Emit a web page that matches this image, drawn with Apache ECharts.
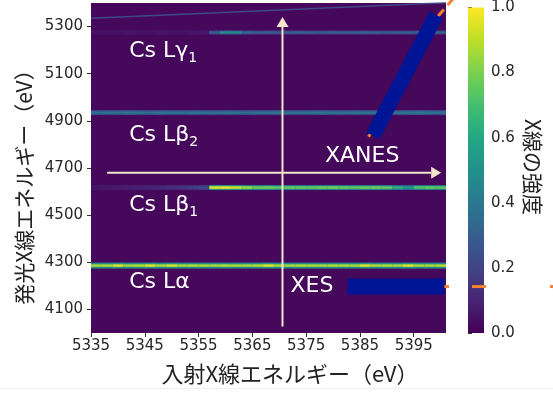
<!DOCTYPE html>
<html><head><meta charset="utf-8">
<script src="https://cdn.jsdelivr.net/npm/echarts@6/dist/echarts.min.js"></script>
<style>html,body{margin:0;padding:0;background:#fff}#c{width:553px;height:405px}</style>
</head><body><div id="c"></div>
<script>
// ---------- data ----------
const incidentBins = [5335,5337,5339,5341,5343,5345,5347,5349,5351,5353,5355,5357,5359,5361,5363,5365,5367,5369,5371,5373,5375,5377,5379,5381,5383,5385,5387,5389,5391,5393,5395,5397,5399];
const binWidth = 2;
const emissionLines = [5275, 4935, 4617, 4286];
const intensityLgamma1 = [0.04,0.04,0.04,0.05,0.04,0.04,0.05,0.04,0.04,0.05,0.06,0.3,0.5,0.48,0.34,0.3,0.31,0.29,0.3,0.32,0.3,0.29,0.31,0.3,0.3,0.32,0.3,0.29,0.3,0.31,0.3,0.33,0.3];
const intensityLbeta2 = [0.36,0.38,0.37,0.4,0.38,0.36,0.39,0.38,0.37,0.39,0.38,0.37,0.39,0.38,0.36,0.38,0.37,0.39,0.38,0.37,0.38,0.4,0.38,0.37,0.39,0.38,0.37,0.36,0.38,0.39,0.41,0.39,0.38];
const intensityLbeta1 = [0.05,0.06,0.07,0.08,0.09,0.1,0.11,0.13,0.15,0.18,0.22,0.95,0.97,0.93,0.86,0.77,0.78,0.75,0.77,0.76,0.75,0.78,0.79,0.76,0.75,0.77,0.78,0.75,0.63,0.53,0.72,0.76,0.74];
const intensityLalpha = [0.86,0.87,0.95,0.86,0.88,0.95,0.87,0.94,0.86,0.88,0.87,0.86,0.88,0.87,0.86,0.88,0.95,0.87,0.86,0.88,0.87,0.86,0.88,0.87,0.86,0.95,0.87,0.88,0.86,0.95,0.87,0.86,0.88];
const elasticLine = [[5335,5335],[5401,5401]];
const elasticIntensity = 0.22;
const xTicks = [5335,5345,5355,5365,5375,5385,5395];
const yTicks = [4100,4300,4500,4700,4900,5100,5300];
const cbTicks = [0,0.2,0.4,0.6,0.8,1.0];
const labelTexts = ['Cs L\u03b3{s|1}','Cs L\u03b2{s|2}','Cs L\u03b2{s|1}','Cs L\u03b1','XANES','XES'];
const labelX = [5342.1,5342.1,5342.1,5342.1,5378.5,5372.1];
const labelY = [5194,4838,4542,4214,4751,4197];
const arrowStart = [[5370.6,4028],[5338,4680]];
const arrowEnd = [[5370.6,5341],[5400.1,4680]];
const markBarStart = [[5387.4,4837],[5382.7,4197]];
const markBarEnd = [[5399.2,5349.6],[5400.7,4197]];
// orange dash pieces: [x0, y0, x1, y1]
const orangeDashes = [
  [5386.6,4832.6,5388.3,4893],
  [5399.0,5330,5400.6,5372],
  [5401.3,5392,5403.2,5440],
  [5399.7,4197,5401.55,4197],
  [5405.83,4197,5408.43,4197],
  [5420.33,4197,5422.19,4197]
];
const xTitle = '入射X線エネルギー（eV）';
const yTitle = '発光X線エネルギー（eV）';
const cbTitle = 'X線の強度';

// ---------- helpers ----------
const VIR = ['#440154','#482475','#414487','#355f8d','#2a788e','#21918c','#22a884','#44bf70','#7ad151','#bddf26','#fde725'];
function hx(c){return [parseInt(c.slice(1,3),16),parseInt(c.slice(3,5),16),parseInt(c.slice(5,7),16)];}
function viridis(t){
  t=Math.max(0,Math.min(1,t)); const f=t*10; const i=Math.min(9,Math.floor(f)); const r=f-i;
  const a=hx(VIR[i]), b=hx(VIR[i+1]);
  return 'rgb('+a.map((v,k)=>Math.round(v+(b[k]-v)*r)).join(',')+')';
}
const coreH=[2,2.5,2.5,2.5], haloH=[4,5,5,6];
const lineIntensities=[intensityLgamma1,intensityLbeta2,intensityLbeta1,intensityLalpha];
const heatData=[];
lineIntensities.forEach((arr,li)=>arr.forEach((v,j)=>heatData.push([incidentBins[j],incidentBins[j]+binWidth,emissionLines[li],v,li])));
const arrowData=arrowStart.map((s,i)=>[s[0],s[1],arrowEnd[i][0],arrowEnd[i][1]]);
const barData=markBarStart.map((s,i)=>[s[0],s[1],markBarEnd[i][0],markBarEnd[i][1]]);
const labelData=labelX.map((x,i)=>[x,labelY[i],i]);
const ARROW='#f3e3cc';
const barW=[15,16];
const tickFont={fontFamily:'DejaVu Sans',fontSize:15,color:'#262626'};
const cjk='"Noto Sans CJK JP"';

const chart=echarts.init(document.getElementById('c'),null,{renderer:'canvas'});
chart.setOption({
  animation:false,
  backgroundColor:'#fff',
  grid:[
    {left:91,top:3,width:355,height:330,show:true,borderWidth:0,backgroundColor:viridis(0.02)},
    {left:468,top:3,width:16,height:330}
  ],
  xAxis:[
    {type:'value',gridIndex:0,min:5335,max:5401,axisLine:{show:false},splitLine:{show:false},
     axisTick:{show:true,length:4,lineStyle:{color:'#333'},customValues:xTicks},
     axisLabel:Object.assign({customValues:xTicks,margin:6,formatter:v=>String(v)},tickFont)},
    {type:'value',gridIndex:1,min:0,max:1,show:false}
  ],
  yAxis:[
    {type:'value',gridIndex:0,min:4000,max:5400,axisLine:{show:false},splitLine:{show:false},
     axisTick:{show:true,length:4,lineStyle:{color:'#333'},customValues:yTicks},
     axisLabel:Object.assign({customValues:yTicks,margin:8,formatter:v=>String(v)},tickFont)},
    {type:'value',gridIndex:1,position:'right',min:0,max:1,interval:0.2,axisLine:{show:false},splitLine:{show:false},
     axisTick:{show:true,length:4,lineStyle:{color:'#333'}},
     axisLabel:Object.assign({margin:7,formatter:v=>v.toFixed(1)},tickFont)}
  ],
  graphic:[
    {type:'text',style:{text:xTitle,font:'22px '+cjk,fill:'#222',align:'center',verticalAlign:'middle'},x:290,y:374},
    {type:'text',style:{text:yTitle,font:'21px '+cjk,fill:'#222',align:'center',verticalAlign:'middle'},x:24,y:182,rotation:Math.PI/2},
    {type:'text',style:{text:cbTitle,font:'21px '+cjk,fill:'#222',align:'center',verticalAlign:'middle'},x:533,y:167,rotation:-Math.PI/2},
    {type:'line',shape:{x1:0,y1:388.5,x2:553,y2:388.5},style:{stroke:'#efefef',lineWidth:1}}
  ],
  series:[
    {type:'custom',xAxisIndex:0,yAxisIndex:0,clip:true,z:2,silent:true,data:heatData,
     renderItem:(p,api)=>{
       const x0=api.value(0),x1=api.value(1),y=api.value(2),v=api.value(3),li=api.value(4);
       const a=api.coord([x0,y]),b=api.coord([x1,y]);const w=b[0]-a[0]+0.6;
       return {type:'group',children:[
         {type:'rect',shape:{x:a[0],y:a[1]-haloH[li]/2,width:w,height:haloH[li]},style:{fill:viridis(0.04+0.5*v)}},
         {type:'rect',shape:{x:a[0],y:a[1]-coreH[li]/2,width:w,height:coreH[li]},style:{fill:viridis(v)}}
       ]};
     }},
    {type:'line',xAxisIndex:0,yAxisIndex:0,data:elasticLine,showSymbol:false,silent:true,z:3,
     lineStyle:{color:viridis(elasticIntensity),width:1.5}},
    {type:'custom',xAxisIndex:0,yAxisIndex:0,z:4,silent:true,data:arrowData,
     renderItem:(p,api)=>{
       const a=api.coord([api.value(0),api.value(1)]),b=api.coord([api.value(2),api.value(3)]);
       const dx=b[0]-a[0],dy=b[1]-a[1],L=Math.hypot(dx,dy),ux=dx/L,uy=dy/L,hl=10,hw=12;
       const base=[b[0]-ux*hl,b[1]-uy*hl];
       return {type:'group',children:[
         {type:'line',shape:{x1:a[0],y1:a[1],x2:base[0],y2:base[1]},style:{stroke:ARROW,lineWidth:2}},
         {type:'polygon',shape:{points:[b,[base[0]-uy*hw/2,base[1]+ux*hw/2],[base[0]+uy*hw/2,base[1]-ux*hw/2]]},style:{fill:ARROW}}
       ]};
     }},
    {type:'custom',xAxisIndex:0,yAxisIndex:0,z:5,silent:true,data:labelData,
     renderItem:(p,api)=>{
       const c=api.coord([api.value(0),api.value(1)]);const i=api.value(2);
       return {type:'text',x:c[0],y:c[1],style:{text:labelTexts[i],fill:'#fff',fontFamily:'DejaVu Sans',fontSize:22,lineHeight:28,
         align:'left',verticalAlign:'middle',
         rich:{s:{fontFamily:'DejaVu Sans',fontSize:14,lineHeight:14,verticalAlign:'bottom',fill:'#fff'}}}};
     }},
    {type:'custom',xAxisIndex:1,yAxisIndex:1,z:2,silent:true,data:[[0,0,1,1]],
     renderItem:(p,api)=>{
       const a=api.coord([api.value(0),api.value(1)]),b=api.coord([api.value(2),api.value(3)]);
       return {type:'rect',shape:{x:a[0],y:b[1],width:b[0]-a[0],height:a[1]-b[1]},
         style:{fill:new echarts.graphic.LinearGradient(0,1,0,0,VIR.map((c,i)=>({offset:i/10,color:c})))}};
     }},
    {type:'custom',xAxisIndex:0,yAxisIndex:0,z:10,clip:false,silent:true,data:orangeDashes,
     renderItem:(p,api)=>{
       const a=api.coord([api.value(0),api.value(1)]),b=api.coord([api.value(2),api.value(3)]);
       return {type:'line',shape:{x1:a[0],y1:a[1],x2:b[0],y2:b[1]},style:{stroke:'#f5822c',lineWidth:3}};
     }},
    {type:'custom',xAxisIndex:0,yAxisIndex:0,z:11,clip:false,silent:true,data:barData,
     renderItem:(p,api)=>{
       const a=api.coord([api.value(0),api.value(1)]),b=api.coord([api.value(2),api.value(3)]);
       return {type:'line',shape:{x1:a[0],y1:a[1],x2:b[0],y2:b[1]},style:{stroke:'#001496',lineWidth:barW[p.dataIndex],lineCap:'butt'}};
     }}
  ]
});
</script></body></html>
